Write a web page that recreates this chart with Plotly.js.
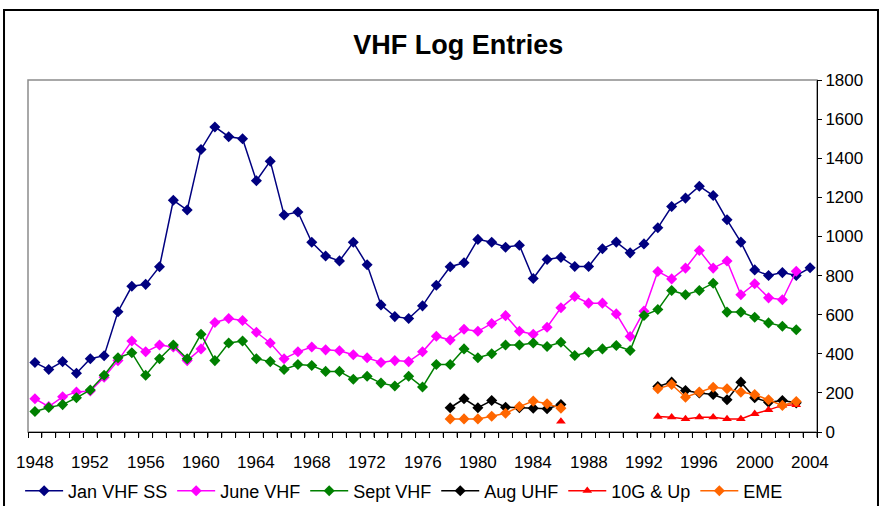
<!DOCTYPE html>
<html>
<head>
<meta charset="utf-8">
<script src="https://cdn.plot.ly/plotly-3.0.1.min.js"></script>
<style>
  html, body { margin: 0; padding: 0; background: #fff; }
  #chart { width: 883px; height: 506px; }
</style>
</head>
<body>
<div id="chart"></div>
<script>
// years on the category axis
let firstYear = 1948;
let lastYear = 2004;
let years = [];
for (let y = firstYear; y <= lastYear; y++) years.push(y);

// labelled years along the bottom
let yearLabels = [1948, 1952, 1956, 1960, 1964, 1968, 1972, 1976, 1980, 1984, 1988, 1992, 1996, 2000, 2004];

// Jan VHF SS, 1948 - 2004
let janVhfSS = [355, 320, 360, 300, 375, 390, 615, 745, 755, 845,
                1185, 1135, 1445, 1560, 1510, 1500, 1285, 1385, 1110, 1125,
                970, 900, 875, 970, 855, 650, 590, 580, 645, 750,
                845, 865, 985, 970, 945, 955, 785, 882, 893, 846,
                846, 937, 971, 916, 962, 1044, 1153, 1196, 1257, 1209,
                1085, 971, 829, 800, 815, 800, 840];

// June VHF, 1948 - 2003
let juneVhf = [170, 130, 180, 205, 210, 280, 365, 465, 410, 445,
               435, 365, 425, 560, 580, 570, 510, 455, 375, 410,
               435, 420, 415, 395, 380, 355, 365, 360, 410, 490,
               470, 525, 515, 555, 595, 515, 500, 536, 635, 693,
               659, 659, 604, 488, 618, 821, 783, 838, 928, 838,
               874, 702, 758, 686, 676, 822];

// Sept VHF, 1948 - 2003
let septVhf = [105, 125, 140, 175, 215, 290, 380, 405, 290, 375,
               445, 375, 500, 365, 455, 465, 375, 360, 320, 345,
               340, 310, 310, 270, 285, 250, 235, 285, 230, 345,
               345, 425, 380, 400, 445, 445, 455, 437, 459, 391,
               408, 425, 442, 417, 596, 626, 724, 702, 724, 761,
               613, 613, 587, 558, 541, 523];

// Aug UHF, 10G & Up and EME start later and skip 1987 - 1992
let augYears = [1978, 1979, 1980, 1981, 1982, 1983, 1984, 1985, 1986,
                1993, 1994, 1995, 1996, 1997, 1998, 1999, 2000, 2001, 2002, 2003];
let augValues = [124, 170, 124, 161, 127, 124, 122, 119, 141,
                 233, 255, 212, 200, 192, 165, 255, 175, 152, 161, 149];

let tenGYears = [1986, 1993, 1994, 1995, 1996, 1997, 1998, 1999, 2000, 2001, 2002, 2003];
let tenGValues = [54, 79, 76, 67, 76, 76, 67, 67, 93, 113, 136, 139];

let emeYears = augYears;
let emeValues = [67, 67, 67, 81, 96, 130, 158, 144, 122,
                 221, 243, 178, 204, 229, 221, 204, 192, 165, 136, 156];

// put nulls in the gap years so the lines break
function withGaps(xs, vals) {
    let out = years.map(function () { return null; });
    xs.forEach(function (yr, i) { out[yr - firstYear] = vals[i]; });
    return out;
}

function series(name, vals, color, symbol, size) {
    return {
        x: years,
        y: vals,
        name: name,
        type: 'scatter',
        mode: 'lines+markers',
        connectgaps: false,
        line: {color: color, width: 1.5},
        marker: {color: color, symbol: symbol, size: size}
    };
}

let data = [
    series('Jan VHF SS', janVhfSS, '#000080', 'diamond', 8.5),
    series('June VHF', juneVhf, '#FF00FF', 'diamond', 8.5),
    series('Sept VHF', septVhf, '#008000', 'diamond', 8.5),
    series('Aug UHF', withGaps(augYears, augValues), '#000000', 'diamond', 8.5),
    series('10G &amp; Up', withGaps(tenGYears, tenGValues), '#FF0000', 'triangle-up', 8.5),
    series('EME', withGaps(emeYears, emeValues), '#FF6600', 'diamond', 8.5)
];

let font = {family: 'Liberation Sans, Arial, sans-serif', size: 17, color: '#000'};

// tick marks sit between the year categories
let boundaries = years.map(function (y) { return y - 0.5; });
boundaries.push(lastYear + 0.5);

// year labels under the axis
let annotations = yearLabels.map(function (yr) {
    return {
        x: yr, xref: 'x',
        y: -0.088, yref: 'paper',
        text: String(yr),
        showarrow: false,
        xanchor: 'center', yanchor: 'middle',
        font: font
    };
});

let shapes = [
    // grey plot-area frame
    {type: 'rect', xref: 'paper', yref: 'paper', x0: 0, x1: 1, y0: 0, y1: 1,
     line: {color: '#8c8c8c', width: 1.5}, layer: 'below'},
    // outer chart border
    {type: 'rect', xref: 'paper', yref: 'paper', x0: -0.0304, x1: 1.0773, y0: -0.23, y1: 1.1989,
     line: {color: '#000', width: 2}}
];

// small comb of tick marks below the x axis, one per category boundary
boundaries.forEach(function (b) {
    shapes.push({type: 'line', xref: 'x', yref: 'paper', x0: b, x1: b, y0: 0, y1: -0.015,
                 line: {color: '#000', width: 1}});
});

let layout = {
    width: 883,
    height: 506,
    margin: {l: 28, r: 66, t: 80, b: 74, autoexpand: false},
    paper_bgcolor: '#fff',
    plot_bgcolor: '#fff',
    font: font,
    showlegend: true,
    title: {
        text: '<b>VHF Log Entries</b>',
        font: {family: 'Liberation Sans, Arial, sans-serif', size: 27, color: '#000'},
        xref: 'container', yref: 'container',
        x: 0.519, xanchor: 'center',
        y: 0.911, yanchor: 'middle'
    },
    xaxis: {
        range: [firstYear - 0.5, lastYear + 0.5],
        tickmode: 'array',
        tickvals: boundaries,
        ticktext: boundaries.map(function () { return ''; }),
        ticks: 'outside',
        ticklen: 5,
        tickwidth: 1,
        tickcolor: '#000',
        showline: true,
        linecolor: '#000',
        showgrid: false,
        zeroline: false
    },
    yaxis: {
        side: 'right',
        range: [0, 1800],
        dtick: 200,
        ticks: 'outside',
        ticklen: 4,
        tickcolor: '#000',
        showline: true,
        linecolor: '#000',
        showgrid: false,
        zeroline: false
    },
    annotations: annotations,
    legend: {
        orientation: 'h',
        x: -0.01,
        xanchor: 'left',
        y: -0.115,
        yanchor: 'top',
        font: {family: 'Liberation Sans, Arial, sans-serif', size: 18, color: '#000'},
        itemwidth: 38,
        tracegroupgap: 0
    },
    shapes: shapes
};

Plotly.newPlot('chart', data, layout, {displayModeBar: false, staticPlot: true});
</script>
</body>
</html>
